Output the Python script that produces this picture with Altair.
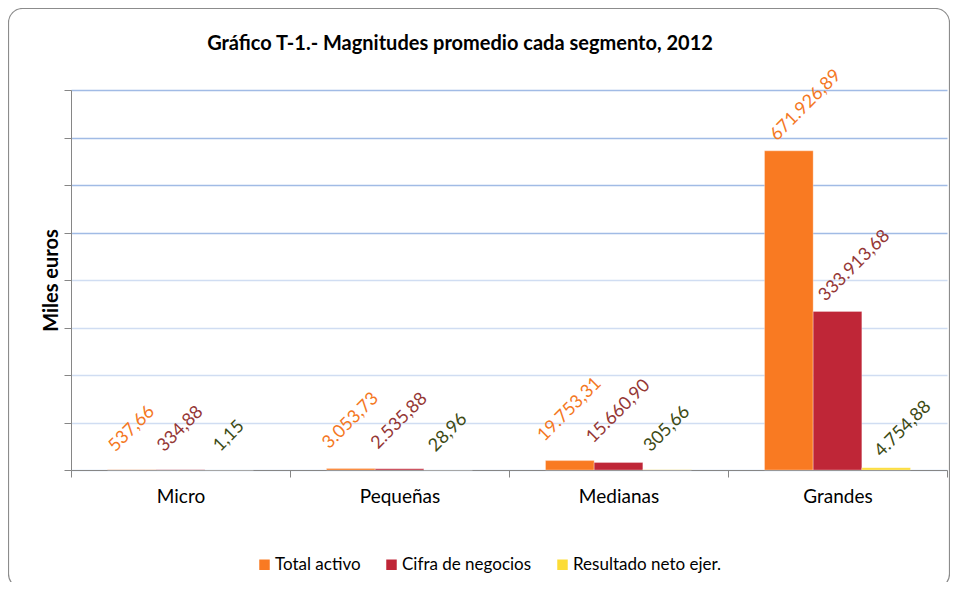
import altair as alt
import pandas as pd

# ---- data ----
segments = ["Micro", "Pequeñas", "Medianas", "Grandes"]
series_names = ["Total activo", "Cifra de negocios", "Resultado neto ejer."]
total_activo = [537.66, 3053.73, 19753.31, 671926.89]
cifra_negocios = [334.88, 2535.88, 15660.90, 333913.68]
resultado_neto = [1.15, 28.96, 305.66, 4754.88]
y_ticks = [0, 100000, 200000, 300000, 400000, 500000, 600000, 700000, 800000]

bar_colors = ["#f97a22", "#bf2637", "#fcdc36"]
label_colors = ["#f4781f", "#953735", "#3d4a14"]

FONT = "Lato"


def fmt_es(v):
    s = f"{v:,.2f}"
    return s.replace(",", "_").replace(".", ",").replace("_", ".")


rows = []
for name, vals, lc in zip(series_names, [total_activo, cifra_negocios, resultado_neto], label_colors):
    for seg, v in zip(segments, vals):
        rows.append({"segmento": seg, "serie": name, "valor": v,
                     "etiqueta": fmt_es(v), "color_etiqueta": lc})
df = pd.DataFrame(rows)

x_enc = alt.X("segmento:N", sort=segments,
              scale=alt.Scale(paddingInner=0, paddingOuter=0),
              axis=alt.Axis(title=None, tickBand="extent", labelAngle=0,
                            labelFont=FONT, labelFontSize=19, labelColor="#000000",
                            labelPadding=10, tickSize=7, tickColor="#868686",
                            domainColor="#868686", grid=False))
xoff_enc = alt.XOffset("serie:N", sort=series_names,
                       scale=alt.Scale(paddingOuter=0.75, paddingInner=0))
y_enc = alt.Y("valor:Q", scale=alt.Scale(domain=[0, 800000], nice=False),
              axis=alt.Axis(title="Miles euros", values=y_ticks, labels=False,
                            titleFont=FONT, titleFontSize=20, titleFontWeight="bold",
                            titleColor="#000000", titlePadding=2,
                            tickSize=7, tickColor="#868686", domainColor="#868686",
                            grid=True, gridWidth=1.3,
                            gridColor={"condition": {"test": "datum.value >= 500000", "value": "#a1bbe5"},
                                       "value": "#d0ddf2"}))

bars = alt.Chart(df).mark_bar(stroke="#ffffff", strokeWidth=0.6, strokeOpacity=0.5).encode(
    x=x_enc, xOffset=xoff_enc, y=y_enc,
    color=alt.Color("serie:N", sort=series_names,
                    scale=alt.Scale(domain=series_names, range=bar_colors),
                    legend=alt.Legend(title=None, orient="none", direction="horizontal",
                                      legendX=185, legendY=466, symbolType="square",
                                      symbolSize=110, symbolStrokeWidth=0,
                                      labelFont=FONT, labelFontSize=17, labelColor="#000000",
                                      labelOffset=2, columnPadding=22, padding=0)),
)

u_expr = "((datum.segmento == 'Grandes' ? 9 : 18) + 0.354*(9.7*length(datum.etiqueta)+6))"
h_expr = "(datum.segmento == 'Grandes' ? 17 : 0)"
labels = alt.Chart(df).mark_text(
    font=FONT, fontSize=18, angle=315, align="center", baseline="middle",
    dx=alt.ExprRef(expr=f"0.707*({h_expr}+{u_expr})"),
    dy=alt.ExprRef(expr=f"0.707*({h_expr}-{u_expr})"),
).encode(
    x=alt.X("segmento:N", sort=segments),
    xOffset=alt.XOffset("serie:N", sort=series_names),
    y=alt.Y("valor:Q"),
    text="etiqueta:N",
    color=alt.Color("color_etiqueta:N", scale=None),
)

frame = alt.Chart(pd.DataFrame({"k": [0]})).mark_rect(
    fill="transparent", stroke="#8c8c8c", strokeWidth=1.2, cornerRadius=14
).encode(
    x=alt.value(-62.5), x2=alt.value(878.5), y=alt.value(-81.5), y2=alt.value(498)
)

chart = alt.layer(frame, bars, labels).properties(
    width=876, height=380,
    title=alt.TitleParams("Gráfico T-1.- Magnitudes promedio cada segmento, 2012",
                          font=FONT, fontSize=20, fontWeight="bold", color="#000000",
                          anchor="middle", frame="group", dx=-49, offset=-66,
                          baseline="bottom"),
    autosize=alt.AutoSizeParams(type="none"),
    padding={"left": 63, "top": 82, "right": 3, "bottom": 112},
    background="#ffffff",
).configure_view(stroke=None)

chart.save("out.html", embed_options={"renderer": "svg", "actions": False})
